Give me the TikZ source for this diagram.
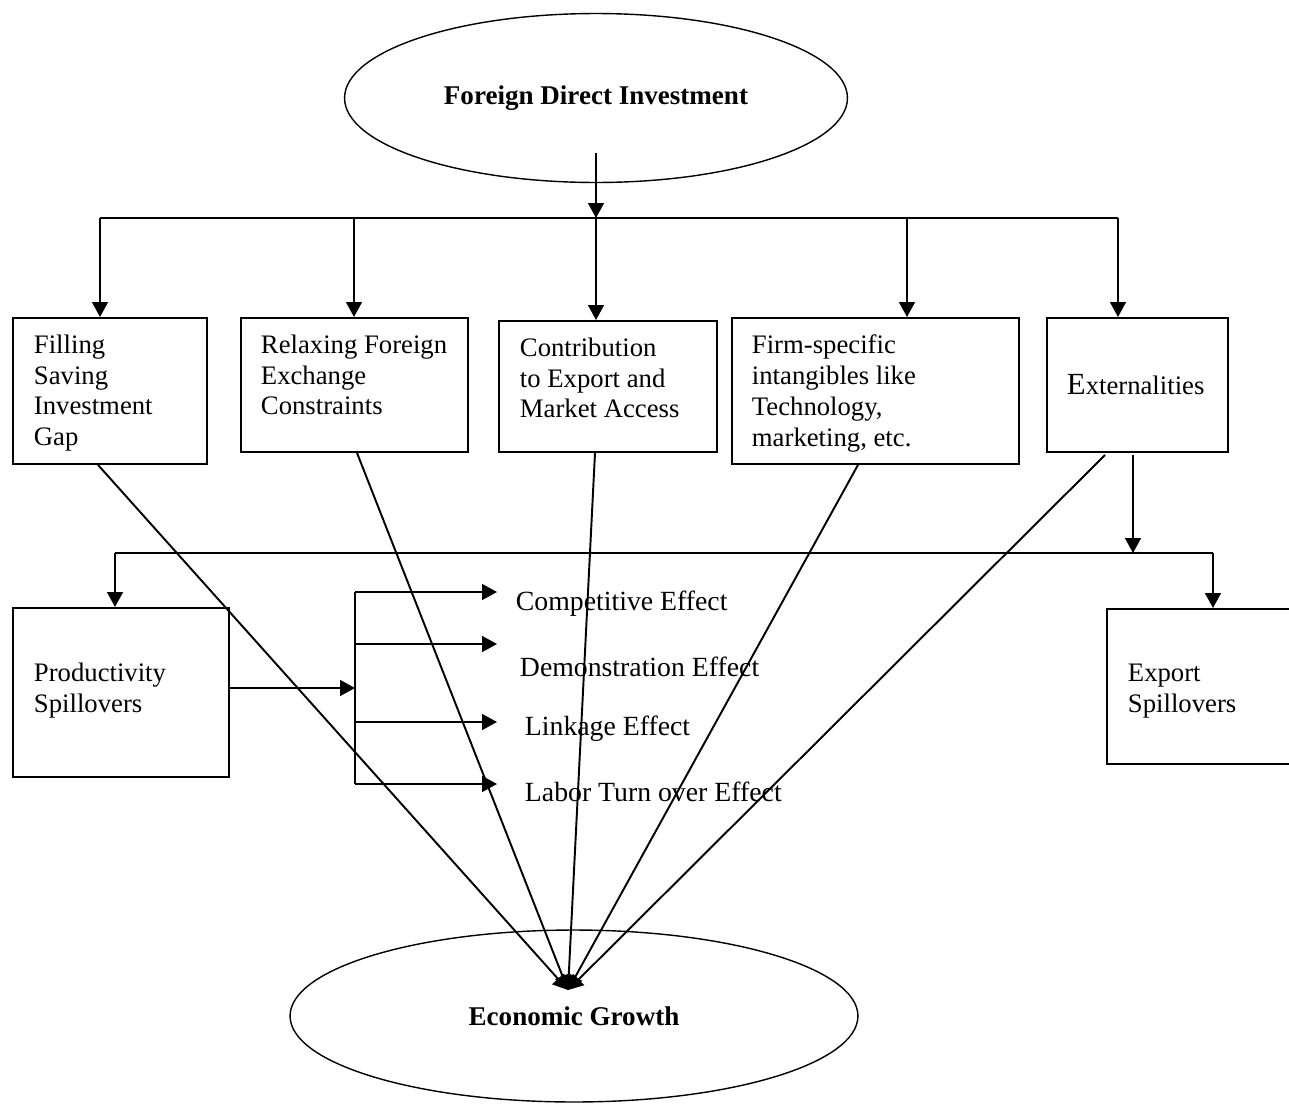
\documentclass[tikz,border=0pt]{standalone}
\usepackage{fontspec}
\setmainfont{Liberation Serif}
\usetikzlibrary{shapes.geometric,arrows.meta}
\begin{document}
\begin{tikzpicture}[x=0.02cm,y=-0.02cm,line width=1.1pt,
  font=\fontsize{15.2}{17.5}\selectfont,
  tip/.style={-{Triangle[length=8.5pt,width=9pt]}},
  oval/.style={draw,ellipse,line width=0.8pt,inner sep=0pt,font=\fontsize{15.4}{17.5}\selectfont\bfseries},
  box/.style={draw,rectangle,anchor=north west,inner sep=0pt},
  txt/.style={anchor=north west,align=left,inner sep=0pt},
  lbl/.style={anchor=west,inner sep=0pt},
  eff/.style={anchor=west,inner sep=0pt,font=\fontsize{15.8}{17.5}\selectfont}]
\useasboundingbox(0,0)rectangle(1289,1106);
\clip(0,0)rectangle(1289,1106);
\node[oval,minimum width=10.06cm,minimum height=3.38cm](fdi)at(596,98){Foreign Direct Investment};
\node[oval,minimum width=11.36cm,minimum height=3.44cm](eg)at(574,1016){Economic Growth};
\node[box,minimum width=3.88cm,minimum height=2.92cm](b1)at(12,317){};
\node[box,minimum width=4.54cm,minimum height=2.68cm](b2)at(240,317){};
\node[box,minimum width=4.36cm,minimum height=2.62cm](b3)at(498,320){};
\node[box,minimum width=5.74cm,minimum height=2.92cm](b4)at(731,317){};
\node[box,minimum width=3.62cm,minimum height=2.68cm](b5)at(1046,317){};
\node[box,minimum width=4.32cm,minimum height=3.38cm](prod)at(12,607){};
\node[box,minimum width=3.80cm,minimum height=3.10cm](expo)at(1106,608){};
\node[txt](b1t)at(33,334){Filling\\Saving\\Investment\\Gap};
\node[txt](b2t)at(260,334){Relaxing Foreign\\Exchange\\Constraints};
\node[txt](b3t)at(519,337){Contribution\\to Export and\\Market Access};
\node[txt](b4t)at(751,334){Firm-specific\\intangibles like\\Technology,\\marketing, etc.};
\node[lbl](b5t)at(1066,385){{\fontsize{17.5}{17.5}\selectfont E}xternalities};
\node[txt](prodt)at(33,662){Productivity\\Spillovers};
\node[txt](expot)at(1127,663){Export\\Spillovers};
\node[eff](e1)at(515,604){Competitive Effect};
\node[eff](e2)at(519,667){Demonstration Effect};
\node[eff](e3)at(524,729){Linkage Effect};
\node[eff](e4)at(524,792){Labor Turn over Effect};
% branching bars
\coordinate(s0)at(596,153);
\coordinate(h1)at(100,218);
\coordinate(h2)at(1118,218);
\coordinate(s5)at(1133,455);
\coordinate(k1)at(115,553);
\coordinate(k2)at(1213,553);
\coordinate(v1)at(355,592);
\coordinate(v2)at(355,784);
\coordinate(m)at(355,688);
\coordinate(g)at(568,990);
\draw[tip](s0)--(s0|-h1);
\draw(h1)--(h2);
\foreach \x/\b in {100/b1,354/b2,596/b3,907/b4,1118/b5}
  \draw[tip](\x,218)--(\x,0|-\b.north);
\draw[tip](s5)--(s5|-k1);
\draw(k1)--(k2);
\draw[tip](k1)--(k1|-prod.north);
\draw[tip](k2)--(k2|-expo.north);
\draw[tip](prod.east|-m)--(m);
\draw(v1)--(v2);
\foreach \y in {592,644,722,784}
  \draw[tip](355,\y)--(497,\y);
% into growth
\draw[tip](b1.south-|98,0)--(g);
\draw[tip](b2.south-|357,0)--(g);
\draw[tip](b3.south-|595,0)--(g);
\draw[tip](b4.south-|858,0)--(g);
\draw[tip](1105,455)--(g);
\end{tikzpicture}
\end{document}
